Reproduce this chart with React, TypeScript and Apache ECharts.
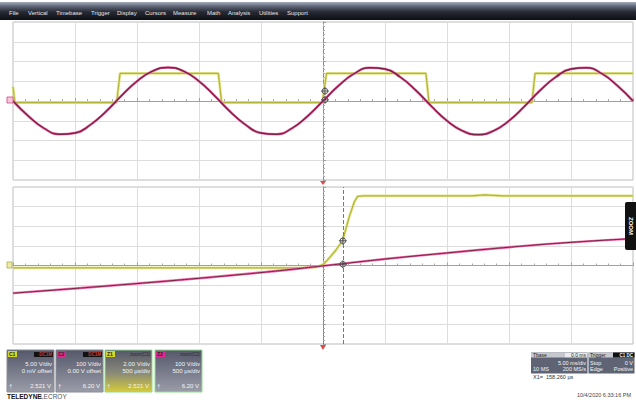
import React, { useEffect, useRef } from "react";
import * as echarts from "echarts";

// ---- menu ----
const menuItems = ["File", "Vertical", "Timebase", "Trigger", "Display", "Cursors", "Measure", "Math", "Analysis", "Utilities", "Support"];
const menuX = [9, 28, 56, 91, 117, 145, 173, 207, 228, 259, 287];

// ---- main acquisition, 5 ms/div (time in ms) ----
const topTime = [-25, -23.75, -22.5, -21.25, -20, -18.75, -17.5, -16.25, -15, -13.75, -12.5, -11.25, -10, -8.75, -7.5, -6.25, -5, -3.75, -2.5, -1.25, 0, 1.25, 2.5, 3.75, 5, 6.25, 7.5, 8.75, 10, 11.25, 12.5, 13.75, 15, 16.25, 17.5, 18.75, 20, 21.25, 22.5, 23.75, 25];
const c2Volts = [0, -77, -138, -168, -162, -120, -53, 27, 100, 151, 170, 151, 100, 27, -53, -120, -162, -168, -138, -77, 0, 77, 138, 168, 162, 120, 53, -27, -100, -151, -170, -151, -100, -27, 53, 120, 162, 168, 138, 77, 0];
const c1Time = [-25, -24.85, -16.64, -16.37, -8.44, -8.17, -0.05, 0.28, 8.3, 8.55, 16.85, 17.1, 25];
const c1Volts = [3.6, -0.4, -0.4, 7.0, 7.0, -0.4, -0.4, 7.0, 7.0, -0.4, -0.4, 7.0, 7.0];

// ---- zoom traces, 500 us/div (time in ms) ----
const zoomTime = [-2.5, -2, -1.5, -1, -0.5, 0, 0.5, 1, 1.5, 2, 2.5];
const z2Volts = [-141, -117, -92, -65, -36, -2, 33, 64, 93, 118, 137];
const z1Time = [-2.5, -1.2, -0.2, -0.1, -0.056, 0, 0.024, 0.06, 0.105, 0.16, 0.212, 0.253, 0.28, 0.32, 1.2, 1.3, 1.45, 2.5];
const z1Volts = [-0.25, -0.25, -0.25, -0.2, -0.18, 0.1, 0.39, 0.9, 1.58, 2.6, 4.98, 6.5, 7.05, 7.1, 7.1, 7.2, 7.1, 7.1];

const cursorTime = 0.16;
const cursorC1 = 2.521;
const cursorC2 = 6.2;

// ---- descriptor boxes ----
const chanLabels = ["C1", "C2", "Z1", "Z2"];
const chanTags = ["DC1M", "DC1M", "zoom(C1)", "zoom(C2)"];
const chanScale = ["5.00 V/div", "100 V/div", "2.00 V/div", "100 V/div"];
const chanSecond = ["0 mV offset", "0.00 V offset", "500 µs/div", "500 µs/div"];
const chanValue = ["2.521 V", "6.20 V", "2.521 V", "6.20 V"];
const chanColor = ["#d6d62e", "#e0288e", "#d6d62e", "#e0288e"];

const FONT = 'Arial, "Liberation Sans", sans-serif';
const YEL = "#b4b63a";
const YEL_GLOW = "#e4e690";
const MAG = "#7c2046";
const MAG_GLOW = "#ee6ea8";

const crossSymbol = "path://M0,5 L10,5 M5,0 L5,10 M8.5,5 A3.5,3.5 0 1,1 1.5,5 A3.5,3.5 0 1,1 8.5,5 Z";

function pairs(xs: number[], ys: number[]) {
  return xs.map((x, i) => [x, ys[i]]);
}

function line(xIdx: number, yIdx: number, data: number[][], color: string, width: number, smooth: boolean | number, z: number, extra: any = {}) {
  return {
    type: "line",
    xAxisIndex: xIdx,
    yAxisIndex: yIdx,
    data,
    symbol: "none",
    showSymbol: false,
    smooth,
    silent: true,
    z,
    lineStyle: { color, width },
    ...extra,
  };
}

function xAx(gridIndex: number, min: number, max: number, interval: number) {
  return {
    type: "value",
    gridIndex,
    min,
    max,
    interval,
    axisLabel: { show: false },
    axisLine: { show: true, onZero: true, lineStyle: { color: "#a0a0a0", width: 1 } },
    axisTick: { show: true, inside: true, length: 3, lineStyle: { color: "#a0a0a0" } },
    minorTick: { show: true, splitNumber: 5, length: 2, lineStyle: { color: "#ababab" } },
    splitLine: { show: true, lineStyle: { color: "#dddddd", width: 1 } },
  };
}

function yAx(gridIndex: number, min: number, max: number, interval: number, show: boolean, axisColor: string, axisType: string) {
  return {
    type: "value",
    gridIndex,
    min,
    max,
    interval,
    show,
    axisLabel: { show: false },
    axisLine: { show: true, onZero: true, lineStyle: { color: axisColor, width: 1, type: axisType } },
    axisTick: { show: true, inside: true, length: 3, lineStyle: { color: "#a0a0a0" } },
    minorTick: { show: true, splitNumber: 5, length: 2, lineStyle: { color: "#ababab" } },
    splitLine: { show: show, lineStyle: { color: "#dddddd", width: 1 } },
  };
}

function txt(x: number, y: number, text: string, size: number, fill: string, align = "left", weight = "normal", extra: any = {}) {
  return {
    type: "text",
    x,
    y,
    z: 101,
    style: { text, fontSize: size, fontFamily: FONT, fill, align, verticalAlign: "middle", fontWeight: weight },
    ...extra,
  };
}

function buildGraphic() {
  const g: any[] = [];
  // menu bar
  g.push({
    type: "rect",
    z: 100,
    shape: { x: 0, y: 2, width: 636, height: 18 },
    style: {
      fill: new echarts.graphic.LinearGradient(0, 0, 0, 1, [
        { offset: 0, color: "#a6acba" },
        { offset: 0.25, color: "#5c6374" },
        { offset: 0.55, color: "#262a34" },
        { offset: 1, color: "#0e0f13" },
      ]),
    },
  });
  menuItems.forEach((m, i) => g.push(txt(menuX[i], 13, m, 6, "#e4e4ea")));

  // descriptor boxes
  const boxX = [7, 56, 105, 155];
  const boxW = 47;
  const by = 350;
  const bh = 42;
  chanLabels.forEach((lab, i) => {
    const x = boxX[i];
    const stops =
      i === 2
        ? [
            { offset: 0, color: "#55586a" },
            { offset: 0.55, color: "#8a8a78" },
            { offset: 1, color: "#d6cc3a" },
          ]
        : [
            { offset: 0, color: "#55586a" },
            { offset: 1, color: "#9a9ca8" },
          ];
    g.push({
      type: "rect",
      z: 100,
      shape: { x, y: by, width: boxW, height: bh },
      style: { fill: new echarts.graphic.LinearGradient(0, 0, 0, 1, stops), stroke: i >= 2 ? "#8ee08e" : "#8a8c96", lineWidth: 1 },
    });
    g.push({ type: "rect", z: 101, shape: { x: x + 1, y: by + 1, width: 9, height: 6 }, style: { fill: chanColor[i] } });
    g.push(txt(x + 2, by + 4.2, lab, 5, "#222", "left", "bold"));
    if (i < 2) {
      g.push({ type: "rect", z: 101, shape: { x: x + boxW - 20, y: by + 2, width: 19, height: 5 }, style: { fill: "#111" } });
      g.push(txt(x + boxW - 2, by + 4.6, chanTags[i], 4.5, "#c84040", "right", "bold"));
    } else {
      g.push(txt(x + boxW - 2, by + 4.6, chanTags[i], 4.5, "#2a2c36", "right"));
    }
    g.push(txt(x + boxW - 2, by + 14, chanScale[i], 6, "#f4f4f6", "right"));
    g.push(txt(x + boxW - 2, by + 21, chanSecond[i], 6, "#f4f4f6", "right"));
    g.push(txt(x + 2, by + 36, "†", 6, "#f4f4f6"));
    g.push(txt(x + boxW - 3, by + 36, chanValue[i], 6, "#f4f4f6", "right"));
  });

  // timebase / trigger box
  g.push({ type: "rect", z: 100, shape: { x: 531, y: 352.5, width: 56.5, height: 21 }, style: { fill: "#5e6474" } });
  g.push({ type: "rect", z: 100, shape: { x: 531, y: 352.5, width: 56.5, height: 5 }, style: { fill: "#c6c8d0" } });
  g.push({ type: "rect", z: 101, shape: { x: 565, y: 353, width: 22, height: 4.2 }, style: { fill: "#ececf0" } });
  g.push(txt(533, 355, "Tbase", 5, "#222"));
  g.push(txt(586, 355, "0.0 ms", 5, "#222", "right"));
  g.push(txt(586, 362.5, "5.00 ms/div", 5.5, "#f4f4f6", "right"));
  g.push(txt(533, 369, "10 MS", 5.5, "#f4f4f6"));
  g.push(txt(586, 369, "200 MS/s", 5.5, "#f4f4f6", "right"));

  g.push({ type: "rect", z: 100, shape: { x: 588.5, y: 352.5, width: 46, height: 21 }, style: { fill: "#5e6474" } });
  g.push({ type: "rect", z: 100, shape: { x: 588.5, y: 352.5, width: 46, height: 5 }, style: { fill: "#c6c8d0" } });
  g.push({ type: "rect", z: 101, shape: { x: 613, y: 352.5, width: 21.5, height: 5 }, style: { fill: "#111" } });
  g.push(txt(590, 355, "Trigger", 5, "#222"));
  g.push(txt(633, 355, "C1 DC", 4.5, "#f4f4f6", "right", "bold"));
  g.push(txt(590, 362.5, "Stop", 5.5, "#f4f4f6"));
  g.push(txt(633, 362.5, "0 V", 5.5, "#f4f4f6", "right"));
  g.push(txt(590, 369, "Edge", 5.5, "#f4f4f6"));
  g.push(txt(633, 369, "Positive", 5.5, "#f4f4f6", "right"));
  g.push(txt(533, 377, "X1=", 5.5, "#333"));
  g.push(txt(546, 377, "158.260 µs", 5.5, "#333"));

  // footer
  g.push(txt(7, 396, "TELEDYNE", 6.5, "#111", "left", "bold"));
  g.push(txt(40, 396, "LECROY", 6.5, "#555"));
  g.push(txt(631, 395, "10/4/2020 6:33:16 PM", 5.5, "#444", "right"));

  // ZOOM tab
  g.push({ type: "rect", z: 100, shape: { x: 625, y: 202, width: 12, height: 48, r: [2, 0, 0, 2] }, style: { fill: "#111" } });
  g.push(txt(630.5, 226, "ZOOM", 6, "#ffffff", "center", "bold", { rotation: -Math.PI / 2 }));

  // channel ground markers on the left
  g.push({ type: "rect", z: 100, shape: { x: 7, y: 97, width: 6, height: 6 }, style: { fill: "#f6c8dc", stroke: "#d04484", lineWidth: 0.8 } });
  g.push({ type: "rect", z: 100, shape: { x: 7, y: 262, width: 5, height: 6 }, style: { fill: "#eeeeaa", stroke: "#b0a840", lineWidth: 0.8 } });
  // trigger position markers
  g.push({ type: "polygon", z: 100, shape: { points: [[320, 345], [326, 345], [323, 350]] }, style: { fill: "#e04848" } });
  g.push({ type: "polygon", z: 100, shape: { points: [[320, 181], [326, 181], [323, 185]] }, style: { fill: "#e04848" } });
  return g;
}

export default function App() {
  const ref = useRef<HTMLDivElement>(null);
  useEffect(() => {
    document.body.style.margin = "0";
    const chart = echarts.init(ref.current!, undefined, { renderer: "svg" });
    const crossMark = (coord: number[]) => ({
      silent: true,
      symbol: crossSymbol,
      symbolSize: 8,
      itemStyle: { color: "rgba(255,255,255,0.4)", borderColor: "#555", borderWidth: 1 },
      label: { show: false },
      data: [{ coord }],
    });
    const option: any = {
      animation: false,
      backgroundColor: "#ffffff",
      grid: [
        { left: 13, top: 22, width: 620, height: 158, show: true, backgroundColor: "#ffffff", borderColor: "#bcbcbc", borderWidth: 1 },
        { left: 13, top: 187, width: 620, height: 157, show: true, backgroundColor: "#ffffff", borderColor: "#bcbcbc", borderWidth: 1 },
      ],
      xAxis: [xAx(0, -25, 25, 5), xAx(1, -2.5, 2.5, 0.5)],
      yAxis: [
        yAx(0, -20, 20, 5, true, "#8a8a8a", "dashed"),
        yAx(0, -400, 400, 100, false, "#8a8a8a", "dashed"),
        yAx(1, -8, 8, 2, true, "#e04848", "dotted"),
        yAx(1, -400, 400, 100, false, "#8a8a8a", "dashed"),
      ],
      series: [
        // top: C1 square wave
        line(0, 0, pairs(c1Time, c1Volts), YEL_GLOW, 2.8, false, 2),
        line(0, 0, pairs(c1Time, c1Volts), YEL, 1.2, false, 3, { markPoint: crossMark([cursorTime, cursorC1]) }),
        // top: C2 sine
        line(0, 1, pairs(topTime, c2Volts), MAG_GLOW, 2.6, true, 4),
        line(0, 1, pairs(topTime, c2Volts), MAG, 1.4, true, 5, { markPoint: crossMark([cursorTime, cursorC2]) }),
        // bottom: Z1
        line(1, 2, pairs(z1Time, z1Volts), YEL_GLOW, 2.8, false, 2),
        line(1, 2, pairs(z1Time, z1Volts), YEL, 1.2, false, 3, {
          markLine: {
            silent: true,
            symbol: "none",
            label: { show: false },
            lineStyle: { color: "#7a7a7a", type: "dashed", width: 1 },
            data: [{ xAxis: cursorTime }],
          },
          markPoint: crossMark([cursorTime, cursorC1]),
        }),
        // bottom: Z2
        line(1, 3, pairs(zoomTime, z2Volts), MAG_GLOW, 2.4, true, 4),
        line(1, 3, pairs(zoomTime, z2Volts), MAG, 1.0, true, 5, { markPoint: crossMark([cursorTime, cursorC2]) }),
      ],
      graphic: buildGraphic(),
    };
    chart.setOption(option);
    return () => chart.dispose();
  }, []);
  return <div ref={ref} style={{ width: 636, height: 402 }} />;
}
